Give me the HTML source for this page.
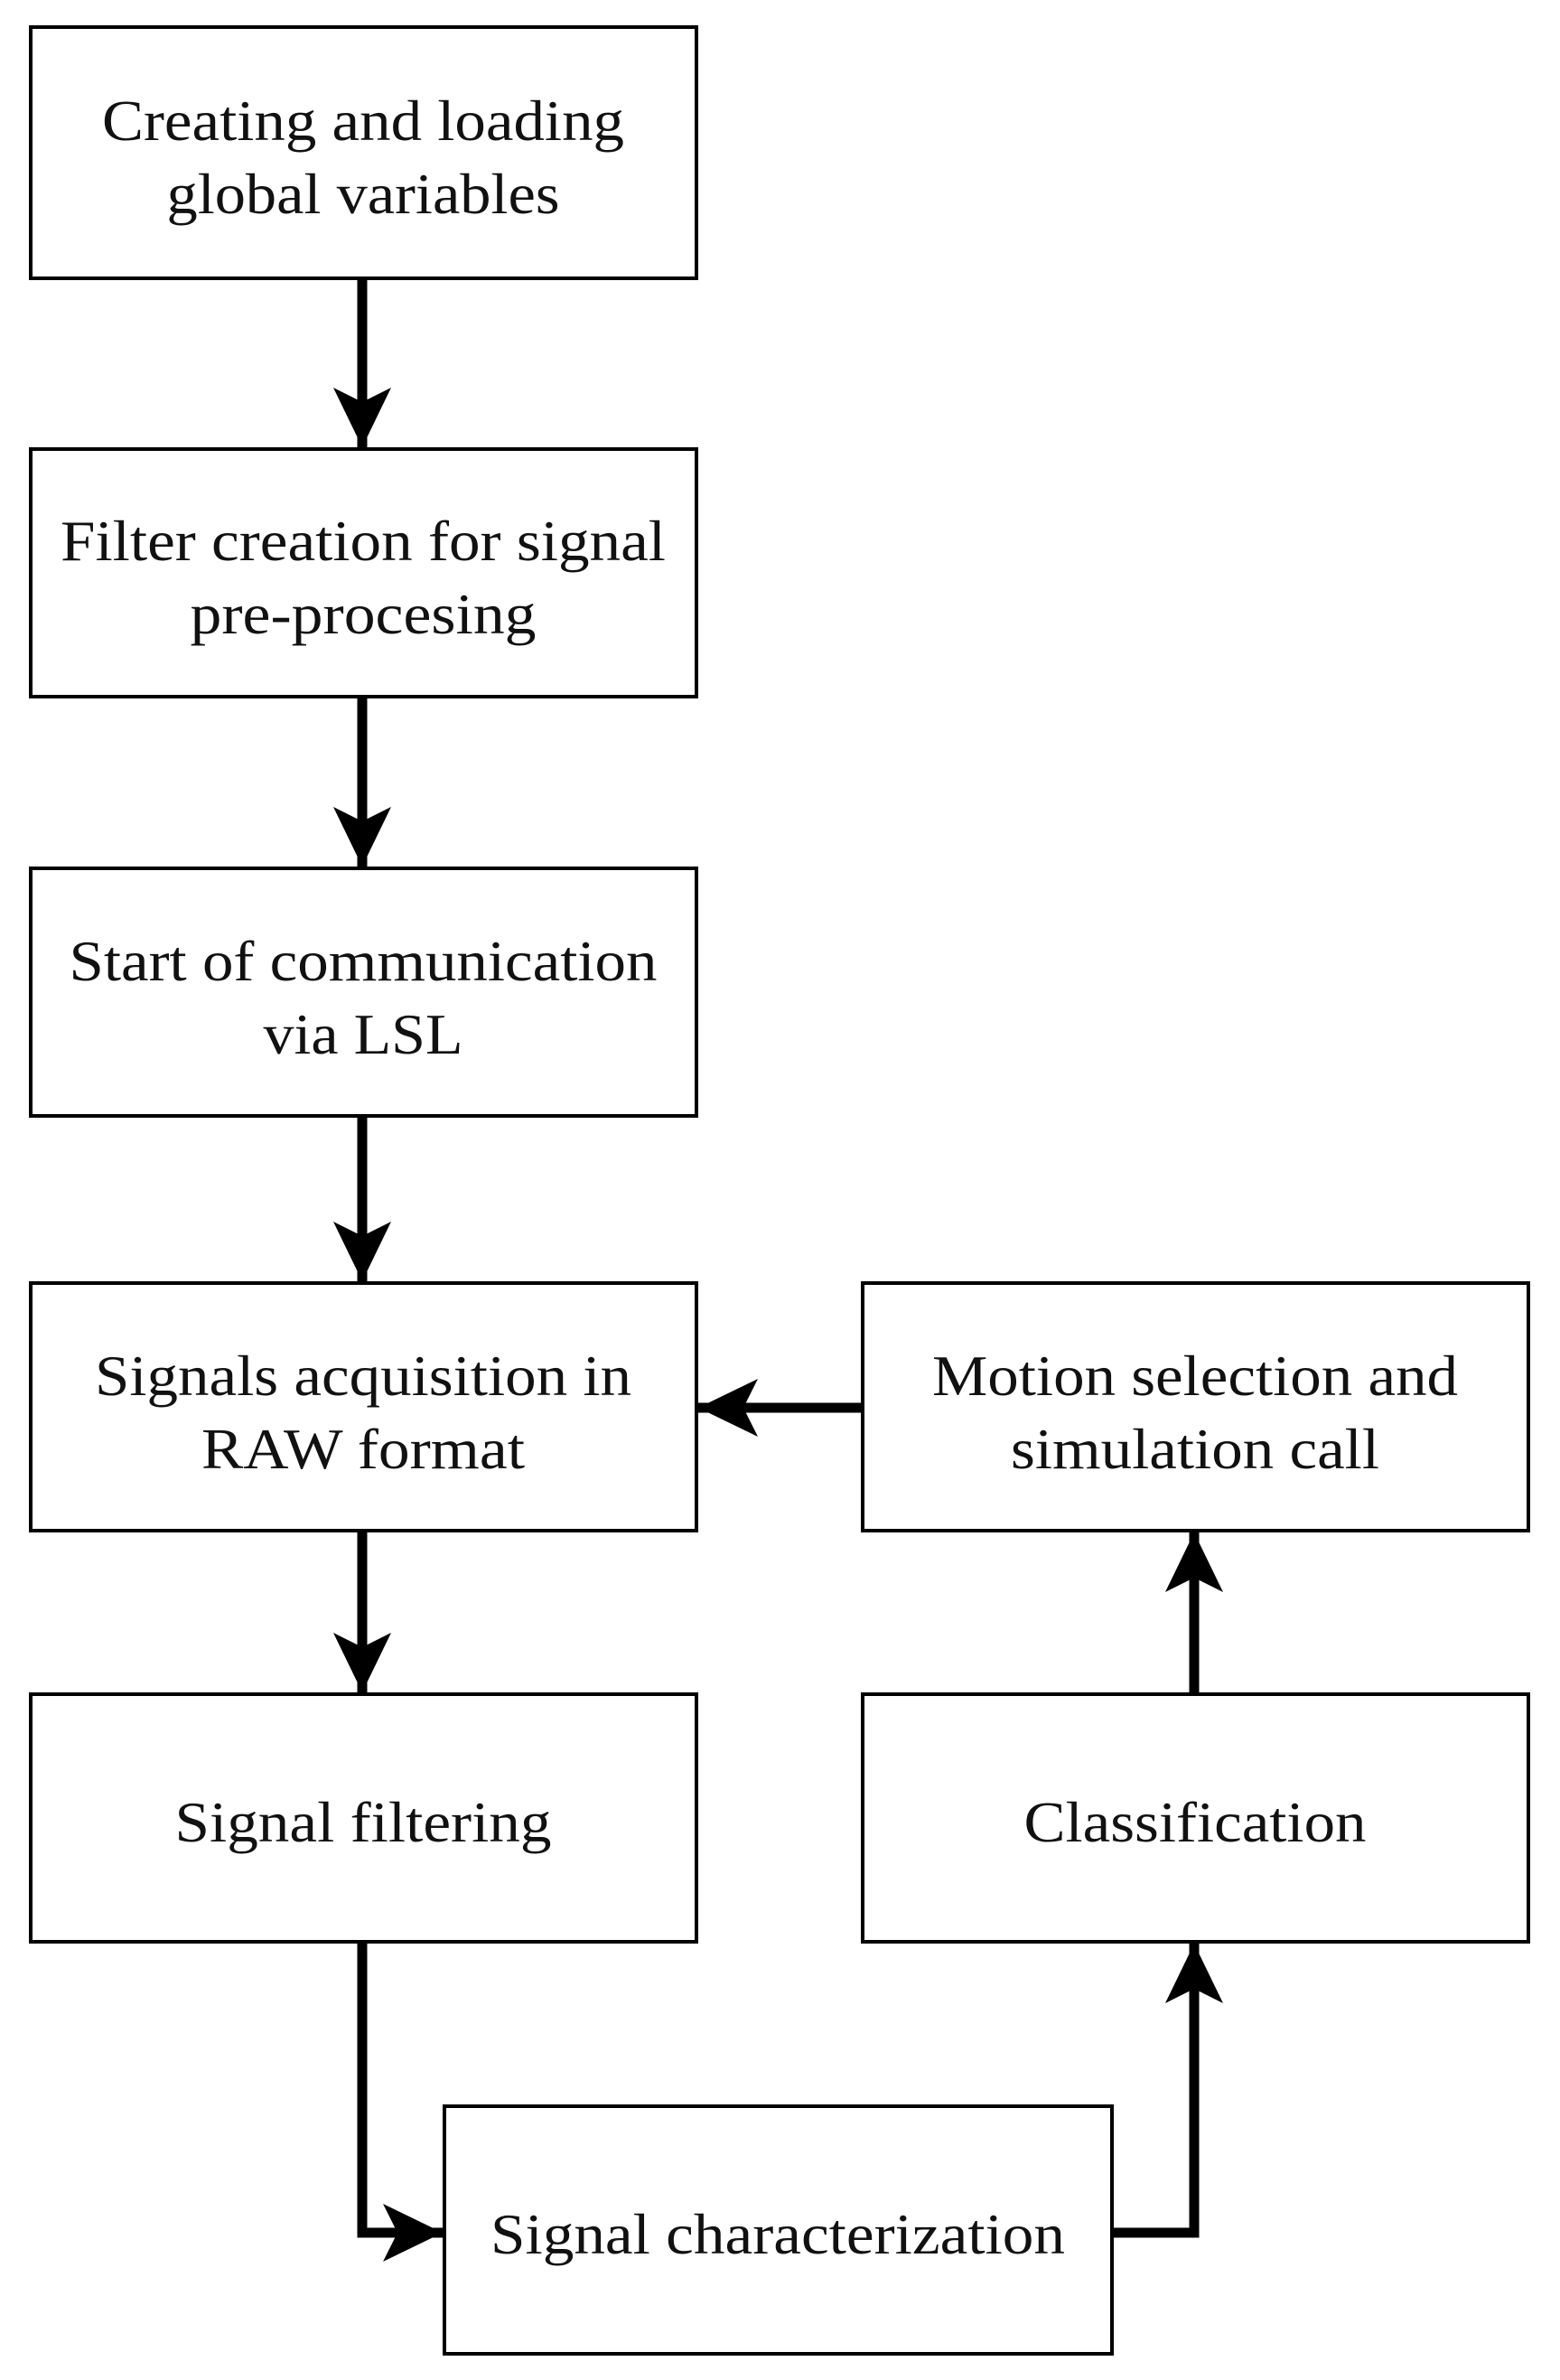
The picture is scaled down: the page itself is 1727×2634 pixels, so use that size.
<!DOCTYPE html>
<html><head><meta charset="utf-8"><style>
html,body{margin:0;padding:0;background:#fff}
svg{display:block}
text{font-family:"Liberation Serif",serif;font-size:64px;fill:#111;text-anchor:middle}
</style></head><body>
<svg width="1727" height="2634" viewBox="0 0 1727 2634" xmlns="http://www.w3.org/2000/svg">
<defs>
<marker id="a" markerUnits="userSpaceOnUse" markerWidth="70" markerHeight="70" refX="66" refY="32" orient="auto">
<path d="M0,0 L66,32 L0,64 L16,32 Z" fill="#000"/>
</marker>
</defs>
<g fill="#fff" stroke="#000" stroke-width="4">
<rect x="34" y="30" width="737" height="278"/>
<rect x="34" y="497" width="737" height="274"/>
<rect x="34" y="961" width="737" height="274"/>
<rect x="34" y="1420" width="737" height="274"/>
<rect x="955" y="1420" width="737" height="274"/>
<rect x="34" y="1875" width="737" height="274"/>
<rect x="955" y="1875" width="737" height="274"/>
<rect x="492" y="2331" width="739" height="274"/>
</g>
<g stroke="#000" stroke-width="11" fill="none" marker-end="url(#a)">
<path d="M401,308 L401,495"/>
<path d="M401,771 L401,959"/>
<path d="M401,1235 L401,1418"/>
<path d="M401,1694 L401,1873"/>
<path d="M955,1558 L773,1558"/>
<path d="M1322,1875 L1322,1696"/>
<path d="M401,2149 L401,2471 L490,2471"/>
<path d="M1231,2471 L1322,2471 L1322,2151"/>
</g>
<g lengthAdjust="spacingAndGlyphs">
<text x="402" y="155" textLength="578" lengthAdjust="spacingAndGlyphs">Creating and loading</text>
<text x="402" y="236" textLength="435" lengthAdjust="spacingAndGlyphs">global variables</text>
<text x="402" y="620" textLength="670" lengthAdjust="spacingAndGlyphs">Filter creation for signal</text>
<text x="402" y="701" textLength="383" lengthAdjust="spacingAndGlyphs">pre-procesing</text>
<text x="402" y="1085" textLength="651" lengthAdjust="spacingAndGlyphs">Start of communication</text>
<text x="402" y="1166" textLength="221" lengthAdjust="spacingAndGlyphs">via LSL</text>
<text x="402" y="1544" textLength="594" lengthAdjust="spacingAndGlyphs">Signals acquisition in</text>
<text x="402" y="1625" textLength="358" lengthAdjust="spacingAndGlyphs">RAW format</text>
<text x="1323" y="1544" textLength="582" lengthAdjust="spacingAndGlyphs">Motion selection and</text>
<text x="1323" y="1625" textLength="408" lengthAdjust="spacingAndGlyphs">simulation call</text>
<text x="402" y="2038" textLength="417" lengthAdjust="spacingAndGlyphs">Signal filtering</text>
<text x="1323" y="2038" textLength="379" lengthAdjust="spacingAndGlyphs">Classification</text>
<text x="861" y="2494" textLength="636" lengthAdjust="spacingAndGlyphs">Signal characterization</text>
</g>
</svg>
</body></html>
